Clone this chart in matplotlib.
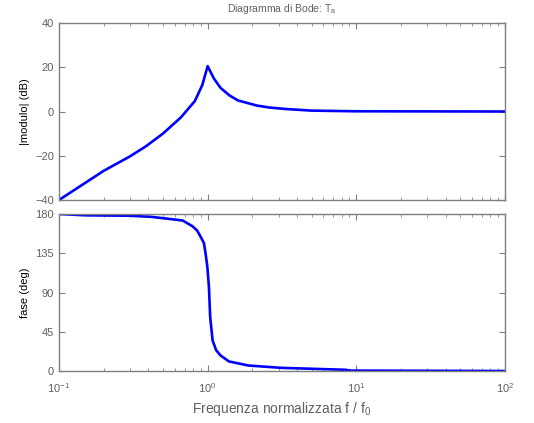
import matplotlib
matplotlib.use("Agg")
import matplotlib.pyplot as plt
from matplotlib.ticker import LogLocator, NullFormatter

plt.rcParams['font.family'] = ['Liberation Sans', 'DejaVu Sans']
plt.rcParams['mathtext.fontset'] = 'custom'
plt.rcParams['mathtext.rm'] = 'Liberation Sans'
plt.rcParams['mathtext.it'] = 'Liberation Sans'

# magnitude data (normalised frequency, dB)
mag_f = [0.1, 0.2, 0.3, 0.385, 0.5, 0.66, 0.82, 0.92, 1.0, 1.1, 1.22, 1.4, 1.6,
         2.14, 2.6, 3.4, 5.0, 10.0, 100.0]
mag_db = [-40, -26.8, -20.3, -15.7, -10.0, -2.7, 4.7, 11.9, 20.5, 15.0, 10.7, 7.3, 5.0,
          2.7, 1.8, 1.1, 0.4, 0.1, 0.0]

# phase data (normalised frequency, degrees)
ph_f = [0.1, 0.15, 0.3, 0.42, 0.61, 0.68, 0.79, 0.85, 0.89, 0.944, 0.968, 0.995, 1.02,
        1.04, 1.08, 1.14, 1.22, 1.39, 1.88, 3.15, 8.5, 9.0, 100.0]
ph_deg = [180, 178.5, 178, 176.7, 173.5, 172.5, 166, 161, 155, 146.7, 135, 119.7, 96.7,
          62, 35, 24, 17.9, 11, 6.3, 3.6, 1.4, 0.5, 0]

mag_ticks = [-40, -20, 0, 20, 40]
ph_ticks = [0, 45, 90, 135, 180]

gray = '#7f7f7f'
tgray = '#606060'

fig = plt.figure(figsize=(5.34, 4.23), dpi=100)
ax1 = fig.add_axes([0.1105, 0.5272, 0.835, 0.4184])
ax2 = fig.add_axes([0.1105, 0.1229, 0.835, 0.3712])

ax1.semilogx(mag_f, mag_db, color='#0000ff', lw=1.9)
ax2.semilogx(ph_f, ph_deg, color='#0000ff', lw=1.9)

for ax in (ax1, ax2):
    ax.set_xlim(0.1, 100)
    for s in ax.spines.values():
        s.set_color(gray)
        s.set_linewidth(1.0)
    ax.tick_params(which='both', direction='in', top=True, right=True,
                   colors=gray, labelcolor=tgray, labelsize=8)
    ax.tick_params(which='major', length=4)
    ax.tick_params(which='minor', length=2.5)
    ax.xaxis.set_major_locator(LogLocator(base=10, numticks=10))
    ax.xaxis.set_minor_locator(LogLocator(base=10, subs=range(2, 10), numticks=10))
    ax.xaxis.set_minor_formatter(NullFormatter())

ax1.set_ylim(-40, 40)
ax1.set_yticks(mag_ticks)
ax1.tick_params(axis='x', labelbottom=False)
ax1.set_ylabel('|modulo| (dB)', fontsize=8, color='black')

ax2.set_ylim(0, 180)
ax2.set_yticks(ph_ticks)
ax2.tick_params(axis='x', which='major', pad=7)
ax2.set_ylabel('fase (deg)', fontsize=8, color='black')
ax2.set_xlabel('Frequenza normalizzata f / f$_0$', fontsize=10, color=tgray)

ax1.set_title('Diagramma di Bode: T$_\\mathregular{a}$', fontsize=7.5, color=tgray, pad=8)

fig.savefig('out.png', dpi=100)
